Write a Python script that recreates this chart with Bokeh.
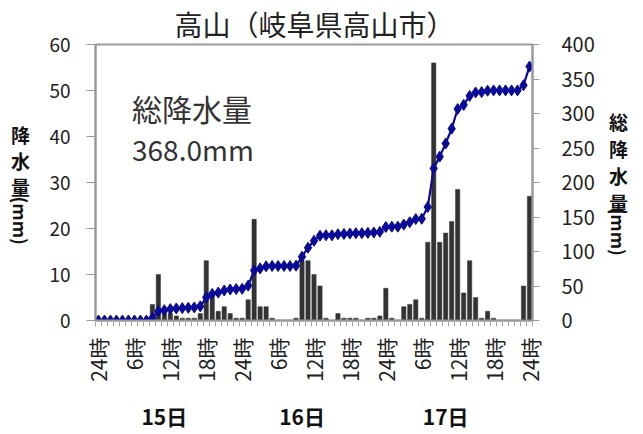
from bokeh.plotting import figure
from bokeh.models import Range1d, LinearAxis, FixedTicker, Label, ColumnDataSource
from bokeh.layouts import row
from bokeh.embed import file_html
from bokeh.resources import INLINE
import math

# hourly precipitation (mm), index 0 = 24時 of 14日 ... 72 = 24時 of 17日
hour_index = list(range(73))
rain_values = {
    9: 3.5, 10: 10.0, 11: 1.5, 12: 1.5, 13: 1.0, 14: 0.5, 15: 0.5, 16: 0.5,
    17: 1.5, 18: 13.0, 19: 5.0, 20: 2.0, 21: 3.0, 22: 1.5, 23: 0.5, 24: 0.5,
    25: 4.5, 26: 22.0, 27: 3.0, 28: 3.0, 29: 0.5, 33: 0.5,
    34: 13.0, 35: 13.0, 36: 10.0, 37: 7.5, 38: 0.5,
    40: 1.5, 41: 0.5, 42: 0.5, 43: 0.5, 45: 0.5, 46: 0.5, 47: 1.0, 48: 7.0, 49: 0.5,
    51: 3.0, 52: 3.5, 53: 4.5, 54: 0.5,
    55: 17.0, 56: 56.0, 57: 17.0, 58: 19.0, 59: 21.5, 60: 28.5,
    61: 6.0, 62: 13.0, 63: 5.0, 64: 0.5, 65: 2.0, 66: 0.5,
    71: 7.5, 72: 27.0,
}
hourly_rain = [rain_values.get(i, 0.0) for i in hour_index]
cumulative = []
total = 0.0
for v in hourly_rain:
    total += v
    cumulative.append(total)

tick_positions = [0, 6, 12, 18, 24, 30, 36, 42, 48, 54, 60, 66, 72]
tick_labels = ["24時", "6時", "12時", "18時", "24時", "6時", "12時", "18時",
               "24時", "6時", "12時", "18時", "24時"]
day_positions = [11, 34, 58]
day_labels = ["15日", "16日", "17日"]
title_text = "高山（岐阜県高山市）"
total_label = ["総降水量", "368.0mm"]
left_title = ["降", "水", "量", "(mm)"]
right_title = ["総", "降", "水", "量", "(mm)"]

JP = "Noto Sans CJK JP"
H = 418

p = figure(frame_width=437, frame_height=276,
           min_border_left=48, min_border_right=61,
           min_border_top=38, min_border_bottom=104,
           x_range=Range1d(-0.5, 72.5), y_range=Range1d(0, 60),
           output_backend="svg", toolbar_location=None)
p.extra_y_ranges = {"cum": Range1d(0, 400)}

p.title.text = title_text
p.title.align = "left"
p.title.offset = 79
p.title.text_font = JP
p.title.text_font_size = "28px"
p.title.text_font_style = "normal"
p.title.text_color = "#222222"
p.title.standoff = 2

p.xgrid.visible = False
p.ygrid.visible = False
p.outline_line_color = "#9a9a9a"
p.outline_line_width = 2

src = ColumnDataSource(dict(x=hour_index, rain=hourly_rain, cum=cumulative))
p.vbar(x="x", top="rain", width=0.72, source=src, fill_color="#333333",
       line_color="#333333", line_width=0.5)
p.line(x="x", y="cum", source=src, y_range_name="cum", line_color="#0a0a96",
       line_width=2.2)
p.scatter(x="x", y="cum", source=src, y_range_name="cum", marker="diamond",
          size=11, fill_color="#0a0a96", line_color="#0a0a96")

# left axis
ya = p.yaxis[0]
ya.ticker = FixedTicker(ticks=[0, 10, 20, 30, 40, 50, 60])
ya.minor_tick_line_color = None
ya.major_tick_out = 9
ya.major_tick_in = 0
ya.axis_line_color = "#9a9a9a"
ya.axis_line_width = 2
ya.major_tick_line_color = "#9a9a9a"
ya.major_label_standoff = 16
ya.major_label_text_font = JP
ya.major_label_text_font_size = "19px"
ya.major_label_text_color = "#222222"

# right axis
ra = LinearAxis(y_range_name="cum", ticker=FixedTicker(ticks=list(range(0, 401, 50))))
ra.minor_tick_line_color = None
ra.major_tick_out = 7
ra.major_tick_in = 0
ra.axis_line_color = "#9a9a9a"
ra.axis_line_width = 2
ra.major_tick_line_color = "#9a9a9a"
ra.major_label_standoff = 22
ra.major_label_text_font = JP
ra.major_label_text_font_size = "20px"
ra.major_label_text_color = "#222222"
p.add_layout(ra, "right")

# x axis (hours)
xa = p.xaxis[0]
xa.ticker = FixedTicker(ticks=tick_positions, minor_ticks=[i + 0.5 for i in range(-1, 73)])
xa.major_label_overrides = {t: l for t, l in zip(tick_positions, tick_labels)}
xa.major_label_orientation = math.pi / 2
xa.major_label_text_font = JP
xa.major_label_text_font_size = "21px"
xa.major_label_text_color = "#222222"
xa.major_tick_line_color = None
xa.minor_tick_out = 6
xa.minor_tick_in = 0
xa.minor_tick_line_color = "#aaaaaa"
xa.axis_line_color = "#9a9a9a"
xa.axis_line_width = 2
xa.major_label_standoff = 11

# x axis (days)
da = LinearAxis(ticker=FixedTicker(ticks=day_positions))
da.major_label_overrides = {t: l for t, l in zip(day_positions, day_labels)}
da.axis_line_color = None
da.major_tick_line_color = None
da.minor_tick_line_color = None
da.major_label_standoff = 10
da.major_label_text_font = JP
da.major_label_text_font_size = "21px"
da.major_label_text_font_style = "bold"
da.major_label_text_color = "#111111"
p.add_layout(da, "below")

# total text
p.add_layout(Label(x=5.6, y=46.3, text=total_label[0], text_align="left",
                   text_baseline="middle", text_font=JP, text_font_size="30px",
                   text_color="#333333"))
p.add_layout(Label(x=5.6, y=37.3, text=total_label[1], text_align="left",
                   text_baseline="middle", text_font=JP, text_font_size="28px",
                   text_color="#333333"))


def side_fig(width, cx, chars, centers):
    # side panels share the main frame's vertical extent (0-60 scale)
    f = figure(width=width, height=H, frame_height=276,
               x_range=Range1d(0, width), y_range=Range1d(0, 60),
               x_axis_location=None, y_axis_location=None,
               min_border_left=0, min_border_right=0,
               min_border_top=38, min_border_bottom=104,
               output_backend="svg", toolbar_location=None)
    f.grid.visible = False
    f.outline_line_color = None
    for ch, cy in zip(chars, centers):
        f.add_layout(Label(x=cx, y=cy, text=ch, text_align="center",
                           text_baseline="middle", text_font=JP,
                           text_font_size="19px" if len(ch) == 1 else "18px",
                           text_font_style="bold", text_color="#111111",
                           angle=0 if len(ch) == 1 else -math.pi / 2))
    return f


left = side_fig(46, 20, left_title, [40.4, 34.8, 29.1, 21.7])
right = side_fig(35, 21, right_title, [43.3, 37.4, 31.5, 25.7, 19.3])

layout = row(left, p, right, spacing=0)
open("out.html", "w").write(file_html(layout, INLINE))
